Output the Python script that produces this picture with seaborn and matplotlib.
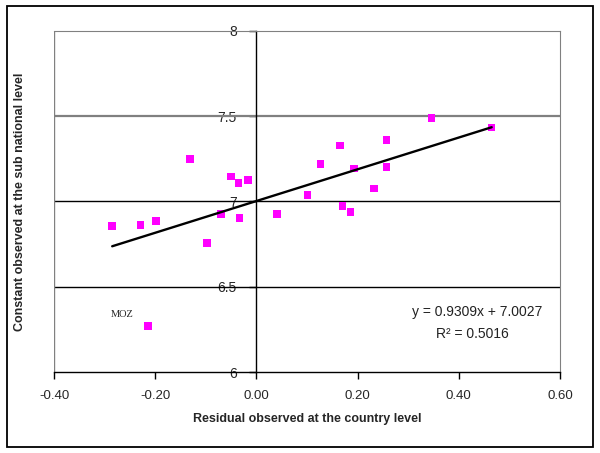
import numpy as np
import pandas as pd
import matplotlib
matplotlib.use('Agg')
import matplotlib.pyplot as plt
import seaborn as sns
from matplotlib.patches import Rectangle

# values
residual = [-0.285, -0.229, -0.198, -0.214, -0.131, -0.098, -0.070, -0.050,
            -0.035, -0.033, -0.017, 0.041, 0.101, 0.127, 0.165, 0.170,
            0.186, 0.193, 0.232, 0.257, 0.257, 0.346, 0.465]
constant = [6.857, 6.861, 6.885, 6.271, 7.249, 6.755, 6.926, 7.147,
            7.108, 6.902, 7.126, 6.926, 7.038, 7.220, 7.329, 6.973,
            6.939, 7.194, 7.077, 7.359, 7.204, 7.488, 7.435]
slope = 0.9309
intercept = 7.0027
r2 = 0.5016
x_ticks = [-0.4, -0.2, 0.0, 0.2, 0.4, 0.6]
y_ticks = [6, 6.5, 7, 7.5, 8]

df = pd.DataFrame({'residual': residual, 'constant': constant})

sns.set_style('white')
plt.rcParams['font.family'] = ['Liberation Sans', 'DejaVu Sans']

fig = plt.figure(figsize=(6, 4.53), dpi=100)
ax = fig.add_axes([0.09, 0.1788, 0.8433, 0.7528])

# horizontal gridlines
for yv in [6.5, 7, 7.5]:
    ax.axhline(yv, color='#000000' if yv != 7.5 else '#808080',
               lw=1.0 if yv != 7.5 else 1.6, zorder=1)
ax.axvline(-0.4, color='#808080', lw=1.0, zorder=1)

sns.scatterplot(data=df, x='residual', y='constant', ax=ax, marker='s',
                color='#FF00FF', s=30, edgecolor='none', zorder=3)

# trend line over the data range
fit_x = np.array([df['residual'].min(), df['residual'].max()])
fit = pd.DataFrame({'x': fit_x, 'y': slope * fit_x + intercept})
sns.lineplot(data=fit, x='x', y='y', ax=ax, color='black', lw=1.7, zorder=4)

ax.set_xlim(-0.4, 0.6)
ax.set_ylim(6, 8)
ax.set_xticks(x_ticks)
ax.set_xticklabels([f'{v:.2f}' for v in x_ticks], fontsize=9.5)
ax.set_yticks(y_ticks)
ax.set_yticklabels([f'{v:g}' for v in y_ticks], fontsize=9.5)

ax.spines['left'].set_position(('data', 0))
ax.spines['left'].set_color('black')
ax.spines['left'].set_linewidth(1.0)
ax.spines['bottom'].set_color('black')
ax.spines['bottom'].set_linewidth(1.0)
ax.spines['top'].set_color('#808080')
ax.spines['right'].set_color('#808080')
ax.tick_params(axis='both', direction='out', length=5, width=1, color='black',
               left=True, bottom=True)
ax.tick_params(axis='x', pad=8)
ax.tick_params(axis='y', pad=9)

ax.set_xlabel('Residual observed at the country level', fontsize=9,
              fontweight='bold', labelpad=8)
ax.set_ylabel('')
fig.text(0.033, 0.555, 'Constant observed at the sub national level', fontsize=9,
         fontweight='bold', rotation=90, ha='center', va='center')

ax.text(-0.266, 6.34, 'MOZ', family='Liberation Serif', fontsize=7.5,
        ha='center', va='center')
ax.text(0.565, 6.35, f'y = {slope}x + {intercept}', fontsize=10,
        ha='right', va='center', color='#222222')
ax.text(0.498, 6.225, f'R² = {r2}', fontsize=10, ha='right', va='center',
        color='#222222')

fig.patches.append(Rectangle((0.0115, 0.013), 0.977, 0.974, transform=fig.transFigure,
                             fill=False, edgecolor='black', lw=1.3))

fig.savefig('out.png', dpi=100)
